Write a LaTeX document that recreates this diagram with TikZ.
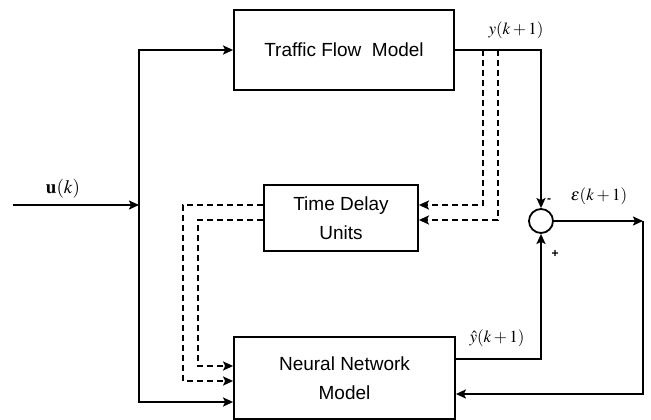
\documentclass[tikz,border=0pt]{standalone}
\usepackage{mathptmx}
\usepackage[no-math]{fontspec}
\setsansfont{Liberation Sans}
\usetikzlibrary{arrows.meta}
\begin{document}
\begin{tikzpicture}[x=1pt,y=-1pt,line width=1.8pt,
    >={Stealth[length=10pt,width=9pt,inset=2pt]},
    block/.style={draw,rectangle,inner sep=0pt,align=center,
      font=\sffamily\fontsize{19}{29}\selectfont},
    dline/.style={dash pattern=on 6pt off 4pt},
    lbl/.style={inner sep=1pt,font=\fontsize{17}{20}\selectfont}]
      \useasboundingbox (0,0) rectangle (651,420);
      \node[block,minimum width=220pt,minimum height=80pt] (tfm) at (344,50) {Traffic Flow\ \ Model};
      \node[block,minimum width=154pt,minimum height=66pt] (tdu) at (341,218) {Time Delay\\Units};
      \node[block,minimum width=221pt,minimum height=82pt] (nn) at (344.5,378) {Neural Network\\Model};
      \node[circle,draw,minimum size=24pt,inner sep=0pt] (sum) at (541,221) {};
      \coordinate (in) at (13,205);
      \coordinate (split) at (139,205);
      \coordinate (tap1) at (483,50);
      \coordinate (tap2) at (498,50);
      \coordinate (eout) at (643,221);
      \begin{scope}[->]
        \draw (in) -- (split);
        \draw (split) |- (tfm.west);
        \draw (split) |- ([yshift=-24pt]nn.west);
        \draw (tfm.east) -| (sum.north);
        \draw ([yshift=19pt]nn.east) -| (sum.south);
        \draw (sum.east) -- (eout);
        \draw (eout) |- ([yshift=-16pt]nn.east);
      \end{scope}
      \begin{scope}[->,dline]
        \draw (tap1) |- ([yshift=13pt]tdu.east);
        \draw (tap2) |- ([yshift=-2pt]tdu.east);
        \draw ([yshift=13pt]tdu.west) -- ++(-80,0) |- ([yshift=-3pt]nn.west);
        \draw ([yshift=-2pt]tdu.west) -- ++(-65,0) |- ([yshift=12pt]nn.west);
      \end{scope}
      \node[lbl,font=\fontsize{19}{22}\selectfont] (ulbl) at (63,189) {$\mathbf{u}(k)$};
      \node[lbl] (ylbl) at (516,30) {$y(k+1)$};
      \node[lbl] (yhlbl) at (497,338) {$\hat{y}(k+1)$};
      \node[lbl] (elbl) at (599,196) {$\varepsilon(k+1)$};
      \node[font=\sffamily\bfseries\fontsize{12}{14}\selectfont] (minus) at (549,201) {-};
      \node[font=\sffamily\bfseries\fontsize{12}{14}\selectfont] (plus) at (555,254) {+};
    \end{tikzpicture}
\end{document}
